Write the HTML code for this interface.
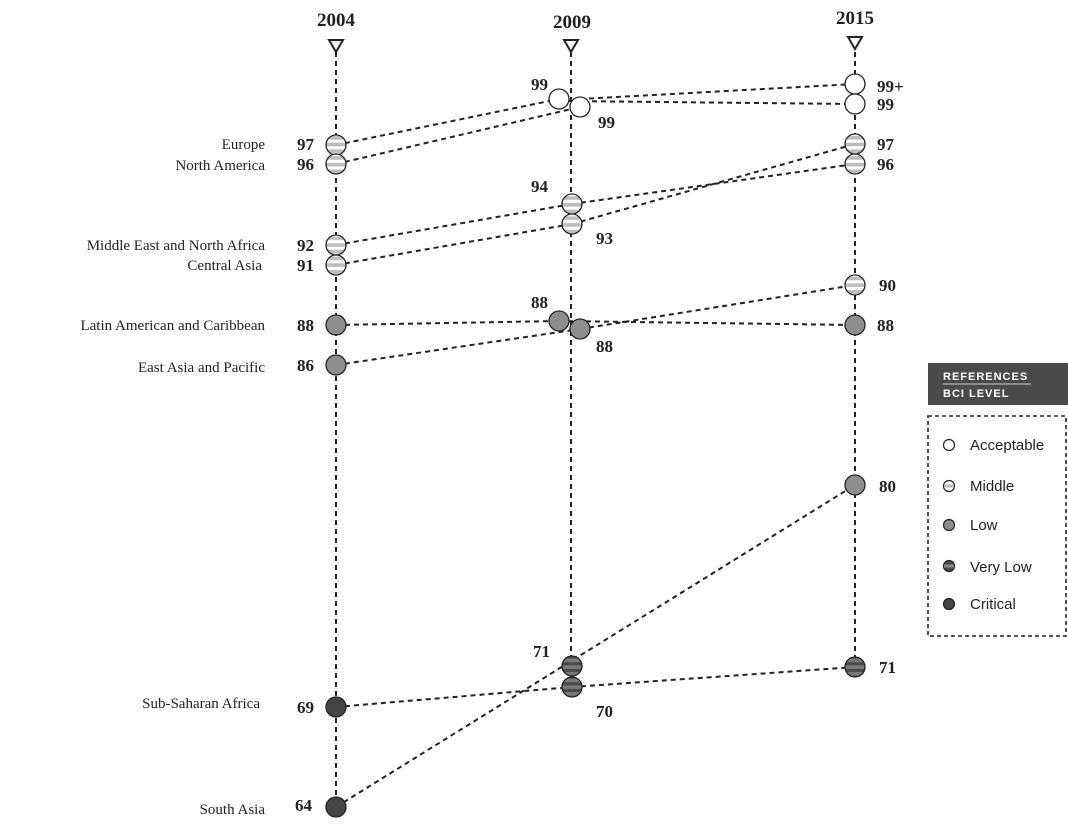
<!DOCTYPE html>
<html><head><meta charset="utf-8"><style>
body{margin:0;background:#fff}
svg{display:block}
.y{font-family:"Liberation Serif",serif;font-weight:bold;font-size:19px;fill:#222}
.n{font-family:"Liberation Serif",serif;font-weight:bold;font-size:17px;fill:#222}
.r{font-family:"Liberation Serif",serif;font-size:15px;fill:#222}
.l{font-family:"Liberation Sans",sans-serif;font-size:15px;fill:#222}
</style></head><body>
<svg width="1068" height="826" viewBox="0 0 1068 826" xmlns="http://www.w3.org/2000/svg">
<defs>
<pattern id="mid" width="20" height="6.7" patternUnits="userSpaceOnUse" y="0.5"><rect width="20" height="6.7" fill="#fff"/><rect y="1.5" width="20" height="3.6" fill="#bdbdbd"/></pattern>
<pattern id="vl" width="20" height="6.7" patternUnits="userSpaceOnUse" y="0.5"><rect width="20" height="6.7" fill="#4a4a4a"/><rect y="1.5" width="20" height="3.6" fill="#7a7a7a"/></pattern>
</defs>
<g stroke="#222" stroke-width="2" stroke-dasharray="5,4" fill="none">
<line x1="336" y1="52" x2="336" y2="800"/>
<line x1="571" y1="52" x2="571" y2="660"/>
<line x1="855" y1="52" x2="855" y2="660"/>
<line x1="336" y1="145" x2="559" y2="99"/>
<line x1="336" y1="164" x2="580" y2="107"/>
<line x1="580" y1="99" x2="855" y2="84"/>
<line x1="565" y1="101" x2="855" y2="104"/>
<line x1="336" y1="245" x2="572" y2="204"/>
<line x1="336" y1="265" x2="572" y2="224"/>
<line x1="572" y1="204" x2="855" y2="164"/>
<line x1="572" y1="224" x2="855" y2="144"/>
<line x1="336" y1="325" x2="559" y2="321"/>
<line x1="559" y1="321" x2="855" y2="325"/>
<line x1="336" y1="365" x2="580" y2="329"/>
<line x1="580" y1="329" x2="855" y2="285"/>
<line x1="336" y1="707" x2="572" y2="687"/>
<line x1="572" y1="687" x2="855" y2="667"/>
<line x1="336" y1="807" x2="855" y2="485"/>
</g>
<g fill="#fff" stroke="#222" stroke-width="2">
<path d="M329,40 L343,40 L336,52 Z"/><path d="M564,40 L578,40 L571,52 Z"/><path d="M848,37 L862,37 L855,49 Z"/>
</g>
<text class="y" x="336" y="26" text-anchor="middle">2004</text>
<text class="y" x="572" y="28" text-anchor="middle">2009</text>
<text class="y" x="855" y="24" text-anchor="middle">2015</text>
<g stroke="#222" stroke-width="1.3">
<circle cx="559" cy="99" r="10" fill="#fff"/><circle cx="580" cy="107" r="10" fill="#fff"/>
<circle cx="855" cy="84" r="10" fill="#fff"/><circle cx="855" cy="104" r="10" fill="#fff"/>
<circle cx="336" cy="145" r="10" fill="url(#mid)"/><circle cx="336" cy="164" r="10" fill="url(#mid)"/>
<circle cx="336" cy="245" r="10" fill="url(#mid)"/><circle cx="336" cy="265" r="10" fill="url(#mid)"/>
<circle cx="572" cy="204" r="10" fill="url(#mid)"/><circle cx="572" cy="224" r="10" fill="url(#mid)"/>
<circle cx="855" cy="144" r="10" fill="url(#mid)"/><circle cx="855" cy="164" r="10" fill="url(#mid)"/>
<circle cx="855" cy="285" r="10" fill="url(#mid)"/>
<circle cx="336" cy="325" r="10" fill="#8e8e8e"/><circle cx="336" cy="365" r="10" fill="#8e8e8e"/>
<circle cx="559" cy="321" r="10" fill="#8e8e8e"/><circle cx="580" cy="329" r="10" fill="#8e8e8e"/>
<circle cx="855" cy="325" r="10" fill="#8e8e8e"/><circle cx="855" cy="485" r="10" fill="#8e8e8e"/>
<circle cx="572" cy="666" r="10" fill="url(#vl)"/><circle cx="572" cy="687" r="10" fill="url(#vl)"/>
<circle cx="855" cy="667" r="10" fill="url(#vl)"/>
<circle cx="336" cy="707" r="10" fill="#444"/><circle cx="336" cy="807" r="10" fill="#444"/>
</g>
<g class="r" text-anchor="end">
<text x="265" y="149">Europe</text><text x="265" y="170">North America</text>
<text x="265" y="250">Middle East and North Africa</text><text x="262" y="270">Central Asia</text>
<text x="265" y="330">Latin American and Caribbean</text><text x="265" y="372">East Asia and Pacific</text>
<text x="260" y="708">Sub-Saharan Africa</text><text x="265" y="814">South Asia</text>
</g>
<g class="n" text-anchor="end">
<text x="314" y="150">97</text><text x="314" y="170">96</text>
<text x="314" y="251">92</text><text x="314" y="271">91</text>
<text x="314" y="331">88</text><text x="314" y="371">86</text>
<text x="314" y="713">69</text><text x="312" y="811">64</text>
<text x="548" y="90">99</text><text x="548" y="192">94</text><text x="548" y="308">88</text><text x="550" y="657">71</text>
</g>
<g class="n">
<text x="598" y="128">99</text><text x="596" y="244">93</text><text x="596" y="352">88</text><text x="596" y="717">70</text>
<text x="877" y="92">99+</text><text x="877" y="110">99</text><text x="877" y="150">97</text><text x="877" y="170">96</text>
<text x="879" y="291">90</text><text x="877" y="331">88</text><text x="879" y="492">80</text><text x="879" y="673">71</text>
</g>
<rect x="928" y="363" width="140" height="42" fill="#4a4a4a"/>
<text x="943" y="380" font-family="Liberation Sans,sans-serif" font-size="11" font-weight="bold" fill="#fff" letter-spacing="1">REFERENCES</text>
<line x1="943" y1="384" x2="1031" y2="384" stroke="#fff" stroke-width="0.8"/>
<text x="943" y="397" font-family="Liberation Sans,sans-serif" font-size="11" font-weight="bold" fill="#fff" letter-spacing="1">BCI LEVEL</text>
<rect x="928" y="416" width="138" height="220" fill="none" stroke="#222" stroke-width="1.6" stroke-dasharray="4,3"/>
<g stroke="#222" stroke-width="1.2">
<circle cx="949" cy="445" r="5.5" fill="#fff"/>
<circle cx="949" cy="486" r="5.5" fill="#fff"/><rect x="944" y="484.5" width="10" height="3" fill="#bbb" stroke="none"/>
<circle cx="949" cy="525" r="5.5" fill="#8e8e8e"/>
<circle cx="949" cy="566" r="5.5" fill="#4a4a4a"/><rect x="944" y="564.5" width="10" height="3" fill="#888" stroke="none"/>
<circle cx="949" cy="604" r="5.5" fill="#444"/>
</g>
<g class="l"><text x="970" y="450">Acceptable</text><text x="970" y="491">Middle</text><text x="970" y="530">Low</text><text x="970" y="572">Very Low</text><text x="970" y="609">Critical</text></g>
</svg>
</body></html>
